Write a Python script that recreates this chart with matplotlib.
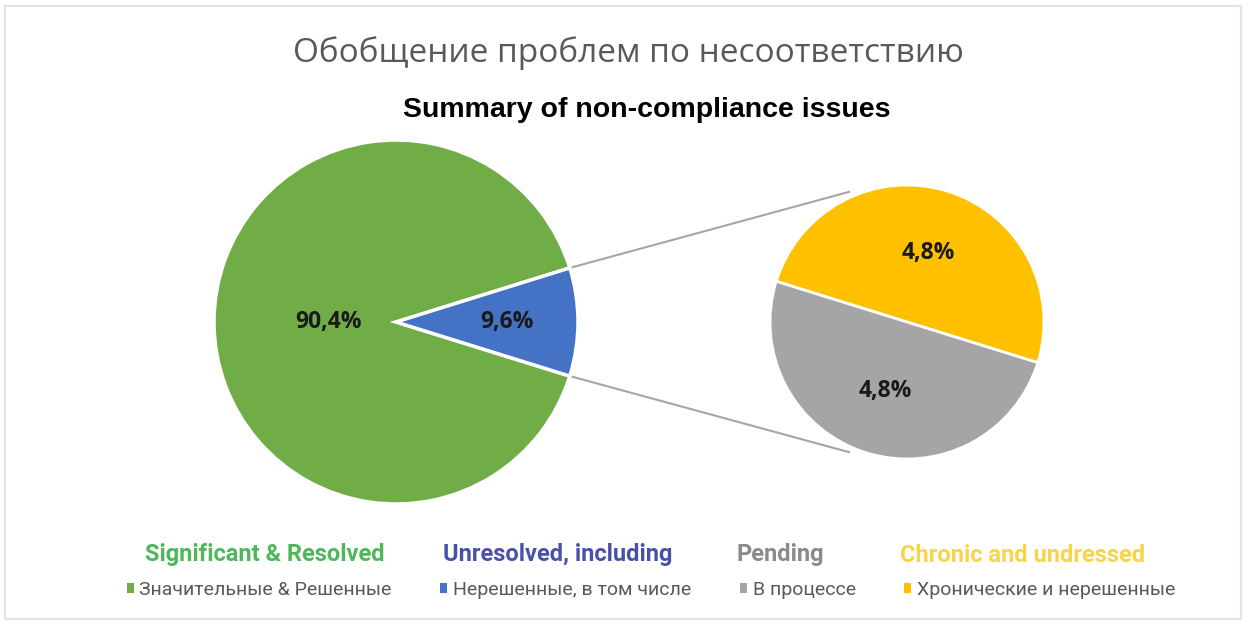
import matplotlib
matplotlib.use("Agg")
import matplotlib.pyplot as plt
from matplotlib.patches import Rectangle
import numpy as np

# data
title_ru = "Обобщение проблем по несоответствию"
title_en = "Summary of non-compliance issues"
main_values = [90.4, 9.6]
sub_values = [4.8, 4.8]
labels_en = ["Significant & Resolved", "Unresolved, including", "Pending", "Chronic and undressed"]
labels_ru = ["Значительные & Решенные", "Нерешенные, в том числе", "В процессе", "Хронические и нерешенные"]

colors_pie = {"green": "#70AD47", "blue": "#4472C4", "gray": "#A5A5A5", "yellow": "#FFC000"}
colors_en = ["#4DB85A", "#4A4FA8", "#8A8A8A", "#F7D44A"]

W, H = 1252, 626


def Y(py):
    return H - py


def fmt(v):
    return f"{v:.1f}%".replace(".", ",")


fig = plt.figure(figsize=(W / 100, H / 100), dpi=100)
ax = fig.add_axes([0, 0, 1, 1])

# main pie, the small slice points to the right
main_center = (396, Y(322))
main_r = 182
start_main = main_values[1] / 2 * 3.6
w_main, _ = ax.pie(main_values, colors=[colors_pie["green"], colors_pie["blue"]],
                   startangle=start_main, center=main_center, radius=main_r,
                   wedgeprops=dict(edgecolor="white", linewidth=2.5), frame=True)

# second pie, breakdown of the small slice
sub_center = (907, Y(322))
sub_r = 137
w_sub, _ = ax.pie(sub_values, colors=[colors_pie["yellow"], colors_pie["gray"]],
                  startangle=-start_main, center=sub_center, radius=sub_r,
                  wedgeprops=dict(edgecolor="white", linewidth=2), frame=True)


def put_label(center, r, wedge, value, dist):
    ang = np.deg2rad((wedge.theta1 + wedge.theta2) / 2)
    ax.text(center[0] + dist * r * np.cos(ang), center[1] + dist * r * np.sin(ang),
            fmt(value), ha="center", va="center", fontsize=16.5, fontweight="bold",
            color="#1a1a1a", family="Open Sans")


put_label(main_center, main_r, w_main[0], main_values[0], 0.37)
put_label(main_center, main_r, w_main[1], main_values[1], 0.61)
put_label(sub_center, sub_r, w_sub[0], sub_values[0], 0.53)
put_label(sub_center, sub_r, w_sub[1], sub_values[1], 0.53)

# connector lines from the small slice to the second pie
for sgn in (1, -1):
    a1 = np.deg2rad(sgn * start_main)
    p1 = (main_center[0] + main_r * np.cos(a1), main_center[1] + main_r * np.sin(a1))
    a2 = np.deg2rad(180 - sgn * 66)
    p2 = (sub_center[0] + 1.04 * sub_r * np.cos(a2), sub_center[1] + 1.04 * sub_r * np.sin(a2))
    ax.plot([p1[0], p2[0]], [p1[1], p2[1]], color="#A6A6A6", lw=1.5, zorder=0)

ax.set_xlim(0, W)
ax.set_ylim(0, H)
ax.set_aspect("equal")
ax.axis("off")

# outer frame
ax.add_patch(Rectangle((5, Y(619)), 1236, 613, fill=False, edgecolor="#E3E3E3", lw=1.5))

ax.text(628, Y(53), title_ru, ha="center", va="center", fontsize=24, color="#595959", family="Open Sans")
ax.text(647, Y(110), title_en, ha="center", va="center", fontsize=20.5, fontweight="bold",
        color="black", family="Liberation Sans")

# legend rows
en_x = [145, 443, 737, 900]
for x, lab, c in zip(en_x, labels_en, colors_en):
    ax.text(x, Y(555), lab, ha="left", va="center", fontsize=17, fontweight="bold",
            color=c, family="Roboto")

handles = [w_main[0], w_main[1], w_sub[1], w_sub[0]]
leg = fig.legend(handles, labels_ru, loc="center", bbox_to_anchor=(651 / W, 1 - 590 / H),
                 ncol=4, frameon=False, handlelength=0.35, handleheight=0.35,
                 handletextpad=0.3, columnspacing=2.5,
                 prop={"family": "Roboto", "size": 14})
for t in leg.get_texts():
    t.set_color("#595959")
for h in leg.legend_handles:
    h.set_edgecolor("none")

fig.savefig("out.png", dpi=100, facecolor="white")
